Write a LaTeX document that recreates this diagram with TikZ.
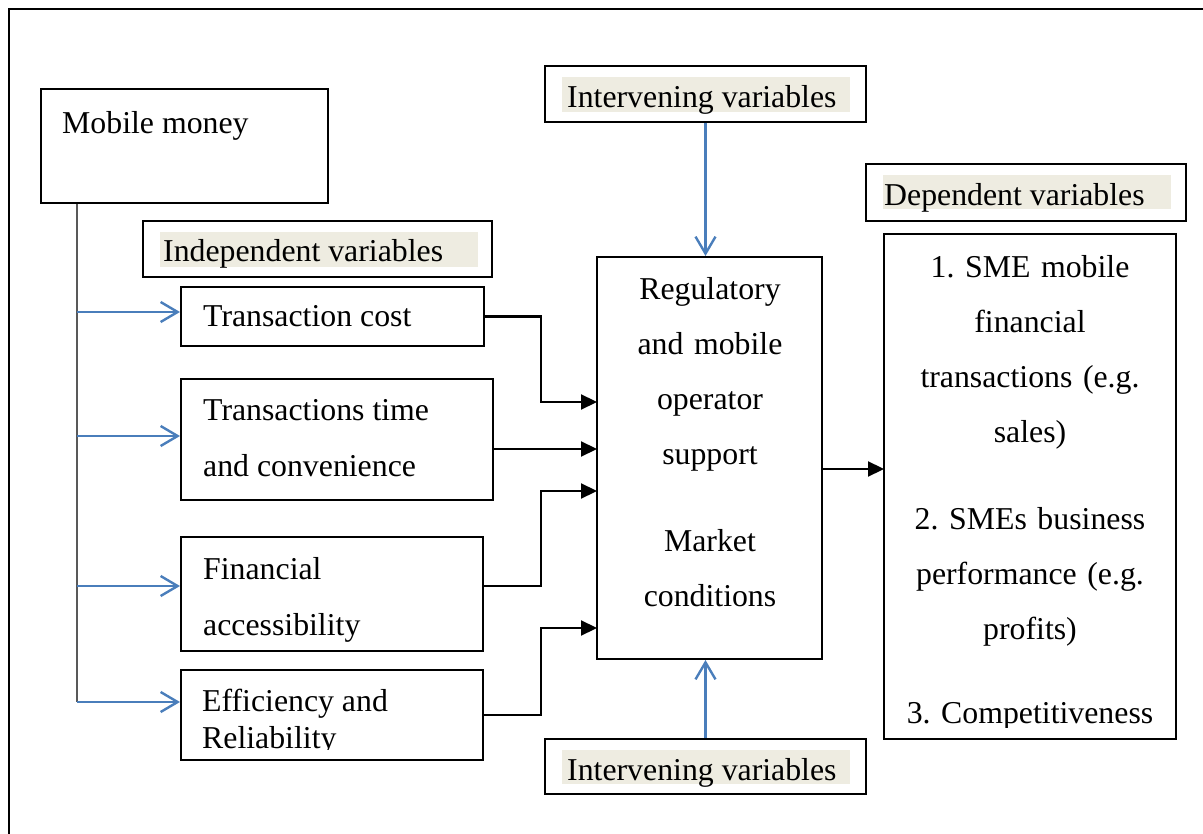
\documentclass[tikz,border=0pt]{standalone}
\usepackage{fontspec}
\setmainfont{Liberation Serif}
\usetikzlibrary{positioning, arrows.meta, fit, calc}

\definecolor{lineblue}{HTML}{4A7EBB}
\definecolor{hlbeige}{HTML}{EEECE1}
\definecolor{trunkgrey}{HTML}{595959}

\tikzset{
  box/.style={draw, line width=2pt, inner sep=0pt},
  lbl/.style={anchor=base west, inner sep=0pt},
  ctr/.style={anchor=base, inner sep=0pt, align=center, text width=#1},
  bluearr/.style={draw=lineblue, line width=2.4pt, -{Straight Barb[length=17pt, width=20pt]}},
  blkarr/.style={line width=2.2pt, -{Triangle[length=16pt, width=15pt]}},
}

\begin{document}
\frenchspacing
\begin{tikzpicture}[x=1pt, y=-1pt, font=\fontsize{31.8}{55.5}\selectfont]
  \useasboundingbox (0,0) rectangle (1203,834);
  \clip (0,0) rectangle (1203,834);
  % outer frame
  \draw[line width=2pt] (9,850) |- (1220,9);

  % boxes
  \node[box, fit={(41,89) (328,203)}] (mm) {};
  \node[box, fit={(143,221) (492,277)}] (iv) {};
  \node[box, fit={(181,287) (484,346)}] (tc) {};
  \node[box, fit={(181,379) (493,500)}] (tt) {};
  \node[box, fit={(181,537) (483,651)}] (fa) {};
  \node[box, fit={(181,670) (483,760)}] (er) {};
  \node[box, fit={(597,257) (822,659)}] (reg) {};
  \node[box, fit={(545,66) (866,122)}] (ivt) {};
  \node[box, fit={(545,739) (866,794)}] (ivb) {};
  \node[box, fit={(866,164) (1186,221)}] (dv) {};
  \node[box, fit={(884,234) (1176,739)}] (dep) {};

  % highlighted headings
  \fill[hlbeige] (160,232) rectangle (478,267);
  \fill[hlbeige] (562,77) rectangle (850,112);
  \fill[hlbeige] (562,750) rectangle (850,784);
  \fill[hlbeige] (883,175) rectangle (1171,209);

  % texts
  \node[lbl] (mmtxt) at (62,134) {Mobile money};
  \node[lbl] (ivtxt) at (163,262) {Independent variables};
  \node[lbl] (ivttxt) at (567,108) {Intervening variables};
  \node[lbl] (ivbtxt) at (567,780) {Intervening variables};
  \node[lbl] (dvtxt) at (884,206) {Dependent variables};
  \node[lbl] (tctxt) at (203,327) {Transaction cost};
  \node[lbl, align=left] (tttxt) at (203,476) {Transactions time\\and convenience};
  \node[lbl, align=left] (fatxt) at (203,635) {Financial\\accessibility};
  \begin{scope}
    \clip (181,670) rectangle (483,749);
    \node[lbl, align=left, font=\fontsize{31.8}{37}\selectfont] (ertxt) at (202,748) {Efficiency and\\Reliability};
  \end{scope}
  \node[ctr=220pt, font=\fontsize{31.8}{55}\selectfont] (regtxt) at (710,300)
    {Regulatory\\and mobile\\operator\\support\\[32pt]Market\\conditions};
  \begin{scope}
    \clip (884,234) rectangle (1176,727);
    \node[ctr=290pt, font=\fontsize{31.8}{54.7}\selectfont] (deptxt) at (1030,278)
      {1. SME mobile\\financial\\transactions (e.g.\\sales)\\[33pt]2. SMEs business\\performance (e.g.\\profits)\\[30pt]3. Competitiveness};
  \end{scope}

  % mobile money branches
  \coordinate (b1) at (77,312);
  \coordinate (b2) at (77,436);
  \coordinate (b3) at (77,586);
  \coordinate (b4) at (77,702);
  \draw[trunkgrey, line width=2pt] (b1 |- mm.south) -- (b4);
  \draw[bluearr] (b1) -- (b1 -| tc.west);
  \draw[bluearr] (b2) -- (b2 -| tt.west);
  \draw[bluearr] (b3) -- (b3 -| fa.west);
  \draw[bluearr] (b4) -- (b4 -| er.west);

  % into the intervening box
  \coordinate (in1) at (597,402);
  \coordinate (in2) at (597,449);
  \coordinate (in3) at (597,491);
  \coordinate (in4) at (597,628);
  \coordinate (o1) at (884,469);
  \draw[blkarr] (tc.east) -- ++(56,0) |- (in1);
  \draw[blkarr] (tt.east |- in2) -- (in2);
  \draw[blkarr] (fa.east |- b3) -- ++(57,0) |- (in3);
  \draw[blkarr] (er.east) -- ++(57,0) |- (in4);
  \draw[blkarr] (reg.east |- o1) -- (o1);
  \draw[bluearr] (ivt.south) -- (ivt.south |- reg.north);
  \draw[bluearr] (ivb.north) -- (ivb.north |- reg.south);
\end{tikzpicture}
\end{document}
